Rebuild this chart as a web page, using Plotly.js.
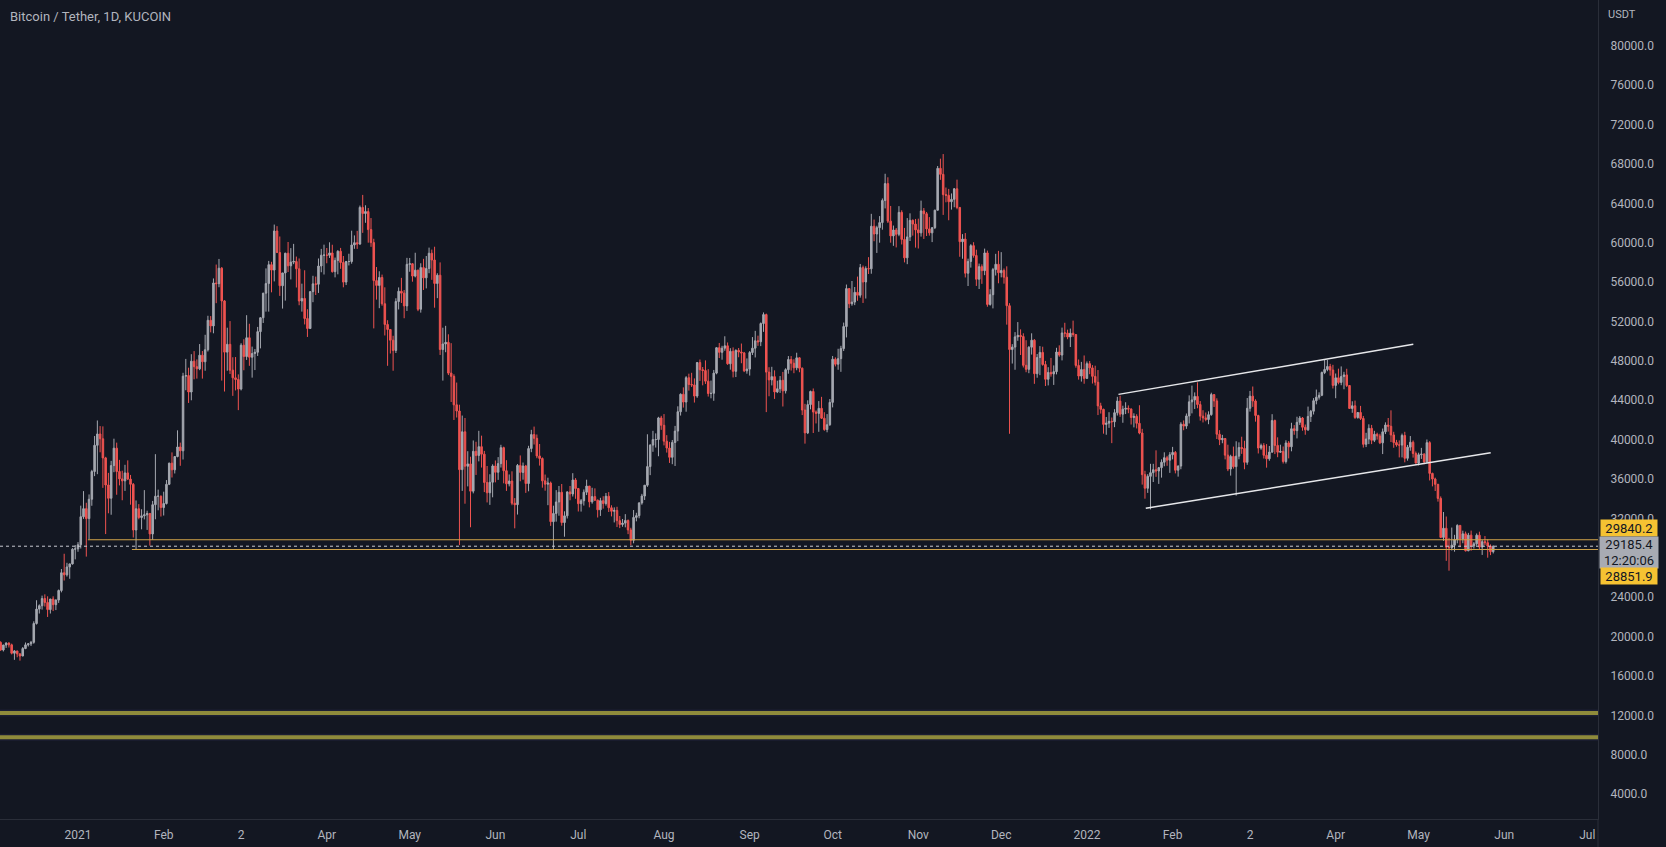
<!DOCTYPE html>
<html>
<head>
<meta charset="utf-8">
<script src="https://cdn.plot.ly/plotly-3.0.1.min.js"></script>
<style>
html,body{margin:0;padding:0;background:#131722;overflow:hidden}
#chart{width:1666px;height:847px}
</style>
</head>
<body>
<div id="chart"></div>
<script>
// Daily candles BTC/USDT (KuCoin), values in thousand USDT, first candle 2020-12-04
const startDate = '2020-12-04';
const openK = [
19.42,18.65,19.15,19.36,19.17,18.32,18.55,18.26,18.04,18.80,19.17,19.27,19.43,21.34,22.80,23.14,23.87,23.48,22.75,23.82,23.25,23.72,24.69,26.49,26.28,27.08,27.39,28.88,
28.92,29.33,32.18,33.00,31.99,33.95,36.77,39.43,40.58,40.09,38.15,35.40,34.05,37.37,39.14,36.77,36.02,35.82,36.63,36.00,35.47,30.83,32.99,32.10,32.27,32.37,32.51,30.43,33.40,34.26,34.26,
33.11,33.52,35.47,37.62,36.94,38.29,39.26,38.87,46.45,46.51,44.84,47.97,47.41,47.19,48.58,47.91,49.13,52.12,51.55,55.91,55.84,57.41,54.09,48.89,49.68,47.06,46.28,46.11,
45.14,49.59,48.44,50.35,48.37,48.75,48.88,50.97,52.38,54.88,55.85,57.77,57.22,61.19,59.00,55.63,56.93,58.93,57.65,58.03,58.10,57.35,54.08,54.34,52.30,51.29,55.03,55.82,55.78,57.63,58.73,
58.74,58.72,58.96,57.06,58.20,59.13,57.99,56.00,58.09,58.09,59.77,60.00,59.86,63.58,62.96,63.16,61.33,60.01,56.15,55.66,56.47,53.80,51.70,51.19,50.10,49.06,54.03,55.07,54.88,53.58,
57.80,57.86,56.61,57.21,53.24,57.47,56.43,57.38,58.93,58.24,55.86,56.70,49.15,49.72,49.88,46.76,46.43,43.54,42.91,36.96,40.80,37.30,37.54,34.77,38.82,38.39,39.29,38.53,35.66,34.61,35.68,
37.33,36.69,37.57,39.19,36.85,35.52,35.80,33.55,33.40,37.39,36.68,37.33,35.55,39.10,40.52,40.14,38.35,38.09,35.82,35.48,35.60,31.68,32.51,33.68,34.66,31.59,32.27,34.70,34.49,35.91,
35.04,33.50,33.80,34.67,35.29,33.69,34.22,33.86,32.88,33.81,33.52,34.26,33.09,32.73,32.82,31.78,31.39,31.53,31.80,30.84,29.79,32.11,32.29,33.58,34.28,35.38,37.27,39.45,40.01,40.02,42.21,
41.46,39.85,39.15,38.21,39.72,40.87,42.84,44.61,43.82,46.29,45.60,45.56,44.43,47.83,47.10,47.02,45.94,44.69,44.71,46.76,49.34,48.87,49.29,49.53,47.71,48.97,46.94,49.07,48.90,48.81,46.99,
47.17,48.85,49.29,50.04,49.94,51.79,52.70,46.86,46.07,46.40,44.85,45.17,46.03,44.96,47.11,48.14,47.76,47.30,48.31,47.26,43.01,40.69,43.56,44.90,42.81,42.67,43.18,42.18,41.03,41.52,
43.79,48.17,47.66,48.23,49.25,51.49,55.34,53.80,53.97,54.96,54.66,57.47,56.01,57.37,57.35,61.67,60.88,61.53,62.04,64.28,66.00,62.19,60.69,61.29,60.85,63.08,60.33,58.46,60.59,62.27,61.89,
61.30,61.00,63.23,62.94,61.40,61.00,61.53,63.30,67.55,66.94,64.88,64.81,64.16,64.40,65.47,63.58,60.10,60.37,56.90,58.10,59.70,58.70,56.29,57.57,57.16,58.96,53.73,54.72,57.27,57.81,
56.95,57.18,56.50,53.60,49.15,49.40,50.44,50.59,50.47,47.55,47.14,49.39,50.10,46.70,48.34,48.86,47.63,46.13,46.83,46.68,46.91,48.90,48.59,50.84,50.82,50.43,50.81,50.68,47.54,46.46,47.12,
46.22,47.72,47.29,46.43,45.83,43.43,43.08,41.55,41.68,41.86,41.82,42.74,43.92,42.59,43.10,43.18,43.11,42.25,42.37,41.66,40.68,36.45,35.07,36.28,36.65,36.95,36.82,37.16,37.71,38.17,37.92,
38.47,38.71,36.90,37.32,41.57,41.38,42.41,43.84,44.04,44.39,43.57,42.39,42.21,42.05,42.54,44.58,43.94,40.55,40.00,40.12,38.43,37.02,38.30,37.26,38.33,39.21,39.11,37.70,
43.19,44.42,43.93,42.45,39.15,39.40,38.42,38.06,38.74,41.94,39.42,38.73,38.81,37.78,39.67,39.28,41.11,40.92,41.76,42.20,41.26,41.00,42.36,42.89,43.96,44.31,44.51,46.82,47.13,47.43,47.07,
45.51,46.28,45.81,46.41,46.58,45.50,43.17,43.44,42.25,42.76,42.16,39.53,40.07,41.15,39.94,40.55,40.38,39.68,40.80,41.49,41.36,40.48,39.71,39.47,39.45,40.43,38.11,39.24,39.74,38.60,
37.63,38.47,38.53,37.75,39.70,36.58,36.01,35.47,34.04,30.08,31.01,29.10,29.03,29.29,29.86,31.30,29.93,30.44,28.72,30.31,29.20,29.43,30.30,29.10,29.65,29.54,29.20,28.63
];
const highK = [
19.53,19.18,19.42,19.42,19.29,18.64,18.56,18.28,18.95,19.41,19.35,19.57,21.56,23.70,23.28,24.17,24.30,24.10,23.84,24.10,23.79,24.79,26.87,28.42,27.50,27.41,28.99,29.30,
29.60,33.30,34.78,33.60,34.44,36.94,40.37,41.95,41.38,41.35,38.26,36.63,37.85,40.10,39.70,37.95,36.85,37.45,37.90,36.42,35.60,33.83,33.46,32.94,34.88,32.79,32.56,33.78,38.53,34.93,34.34,
34.72,35.90,37.66,38.71,38.31,40.95,39.70,46.79,48.20,47.31,48.68,48.99,48.15,49.71,49.00,50.65,52.58,52.55,56.37,57.78,58.35,57.53,54.18,51.37,52.04,48.37,48.39,46.63,
49.79,50.20,52.64,51.77,49.45,49.20,51.45,52.42,54.90,57.39,58.15,58.06,61.84,61.68,60.63,56.94,58.98,60.07,59.45,59.88,58.59,58.40,55.84,57.20,53.24,55.07,56.64,56.56,58.40,59.37,59.80,
59.46,60.04,59.79,58.49,59.24,59.47,58.65,58.15,58.88,61.22,60.74,61.20,63.77,64.85,63.80,63.52,62.50,60.40,57.53,57.10,56.76,55.47,52.13,51.20,50.55,54.36,55.46,56.43,55.20,58.46,
58.45,57.94,58.98,57.26,57.91,58.36,58.65,59.50,59.30,59.59,56.90,58.00,51.37,51.56,50.70,49.80,46.64,45.80,43.55,42.45,42.20,38.83,38.27,39.92,39.79,40.90,40.41,38.86,37.33,36.49,37.50,
37.89,38.23,39.48,39.29,37.92,36.47,36.79,34.07,37.53,38.40,37.68,37.44,39.38,41.00,41.33,40.53,39.56,38.20,36.46,36.14,35.75,33.30,34.88,35.30,35.50,32.73,34.75,35.30,36.60,36.10,
35.10,33.98,34.95,35.94,35.29,35.12,35.06,33.92,34.10,34.26,34.59,34.68,33.34,33.13,33.19,32.25,31.95,32.44,31.90,31.06,32.86,32.58,33.65,34.50,35.40,40.55,39.54,40.90,40.64,42.32,42.42,
42.60,40.46,39.78,39.97,41.40,43.39,44.70,45.31,46.45,46.70,46.79,46.22,47.89,48.14,47.38,48.05,47.16,46.00,47.08,49.38,49.82,49.53,50.50,49.87,49.29,49.37,49.17,49.31,49.76,48.91,48.25,
49.00,50.42,51.05,50.56,51.90,52.92,52.80,47.36,47.40,47.04,45.99,46.46,46.88,47.25,48.49,48.49,48.17,48.83,48.37,47.33,43.64,44.00,44.98,45.20,42.97,43.92,44.35,42.79,42.60,44.13,
48.50,48.36,49.23,49.53,51.89,55.75,55.40,56.11,55.50,56.56,57.84,57.68,57.60,58.53,62.93,62.35,61.72,62.70,64.49,67.00,66.64,63.73,61.74,61.49,63.71,63.29,61.50,62.50,62.98,62.36,62.41,
62.44,64.27,63.52,63.12,62.60,61.56,63.35,67.79,68.53,69.00,65.60,65.46,65.00,65.55,66.40,63.59,60.87,60.98,58.38,59.85,60.05,59.29,57.88,57.80,59.40,59.20,55.28,57.44,58.87,59.17,
59.04,57.38,57.60,53.86,49.70,50.92,51.94,51.20,50.80,50.10,49.49,50.80,50.21,48.70,49.50,49.44,48.00,47.36,48.30,47.54,49.33,49.58,51.38,51.87,51.17,51.28,52.09,50.70,48.14,47.90,48.55,
47.94,47.99,47.57,47.51,47.07,43.75,43.15,42.30,42.79,42.25,43.10,44.35,44.46,43.45,43.80,43.48,43.18,42.68,42.58,43.50,41.10,36.84,36.50,37.55,37.55,38.92,37.23,38.00,38.72,38.36,38.74,
39.27,38.85,37.39,41.77,41.95,42.66,44.50,45.49,44.80,45.82,43.92,42.99,42.76,42.88,44.77,44.60,44.20,40.97,40.49,40.15,39.49,38.47,39.30,39.84,39.73,40.30,39.89,44.23,
44.95,45.40,44.10,42.53,39.60,39.65,39.55,39.36,42.59,42.04,40.24,39.49,39.31,39.94,39.86,41.72,41.48,42.33,42.40,42.30,41.54,43.36,43.02,44.22,45.09,44.81,46.92,48.19,48.10,47.70,47.60,
46.72,47.21,47.44,46.89,47.20,45.51,43.90,43.97,42.80,43.43,42.41,40.70,41.56,41.50,40.90,40.71,40.60,41.13,41.76,42.20,42.98,40.80,39.98,39.93,40.62,40.80,39.47,40.37,39.92,38.80,
38.68,39.17,38.63,40.02,39.85,36.65,36.15,35.51,34.24,32.66,32.20,30.03,31.08,30.34,31.41,31.31,30.76,30.67,30.54,30.77,29.61,30.48,30.66,29.82,30.22,29.88,29.37,29.26
];
const lowK = [
18.57,18.50,18.86,18.90,18.20,17.65,17.91,17.57,18.02,18.73,19.00,19.05,19.29,21.23,22.35,22.75,23.06,22.00,22.35,22.60,22.70,23.43,24.50,25.70,26.10,25.88,27.32,27.85,
28.62,28.95,31.96,28.13,29.90,33.29,36.30,36.50,38.72,35.11,30.42,32.53,32.38,36.70,34.41,35.36,33.85,34.80,35.90,33.40,30.07,28.85,31.92,30.90,31.91,30.84,29.24,29.84,31.92,32.83,32.20,
32.30,33.42,35.39,36.16,36.57,38.21,37.35,37.99,45.02,43.73,44.00,46.13,46.20,47.06,46.20,47.00,48.95,50.90,50.80,53.86,55.48,46.00,44.89,47.00,46.67,44.45,45.00,43.00,
45.00,47.05,48.10,47.50,46.30,47.07,48.50,49.27,51.85,53.00,53.00,54.96,56.07,58.96,54.60,53.31,54.12,57.02,56.27,57.82,55.45,53.65,53.00,51.70,50.43,51.28,53.96,54.69,54.90,57.00,56.77,
57.91,58.45,56.96,56.48,56.79,57.35,55.47,55.70,57.69,57.87,59.38,59.37,59.79,61.00,62.02,60.00,59.58,51.30,54.22,53.35,53.60,50.58,47.50,48.75,47.00,48.80,53.22,53.88,52.33,53.07,
57.05,56.04,56.48,53.05,52.90,55.20,55.36,56.90,56.23,53.40,54.37,48.60,46.00,48.88,46.56,43.83,42.00,42.25,29.30,34.80,33.50,35.26,31.11,34.55,36.42,37.80,37.17,34.68,33.63,33.38,34.15,
35.67,35.92,37.17,35.57,34.80,35.26,33.35,31.00,32.40,35.78,35.94,34.60,34.76,38.73,39.51,38.12,37.37,35.13,34.82,33.35,31.25,28.85,31.68,32.28,31.27,30.15,32.00,33.85,34.23,34.00,
32.71,32.70,33.31,34.38,33.13,33.50,33.77,32.10,32.26,33.00,33.31,32.66,32.21,31.60,31.13,31.02,31.16,31.10,30.41,29.28,29.48,31.71,32.02,33.40,33.88,35.21,36.40,38.77,39.20,38.32,41.00,
39.42,38.69,37.64,37.51,37.33,39.85,42.45,43.26,42.84,44.98,45.35,43.77,44.25,45.97,45.52,45.66,44.38,44.20,43.95,46.64,48.29,48.12,49.03,47.60,47.11,46.32,46.36,48.37,47.76,46.86,46.70,
46.51,48.60,48.35,49.53,49.50,50.95,42.80,44.41,45.51,44.14,44.73,44.75,43.37,44.69,46.70,47.02,46.75,47.05,46.85,42.50,39.60,40.57,43.08,40.68,41.65,40.80,42.10,40.90,40.75,41.41,
43.28,47.44,47.10,46.89,49.00,50.38,53.36,53.60,53.66,54.10,54.42,53.88,54.33,56.82,56.85,60.15,58.96,60.00,61.32,63.48,62.00,60.00,59.68,59.52,60.66,59.82,58.00,57.82,60.17,60.72,59.50,
59.41,60.62,60.38,60.68,60.72,60.06,61.38,63.27,66.38,62.82,64.10,62.28,63.36,63.60,63.40,58.57,58.37,56.47,55.60,57.47,58.48,55.61,55.30,55.82,56.70,53.50,53.61,53.33,56.67,55.88,
56.48,55.84,51.68,40.60,47.73,47.10,50.04,48.60,47.33,46.85,46.75,48.64,45.67,46.29,46.55,47.51,45.45,45.51,46.40,45.56,46.63,48.42,48.05,50.40,50.20,49.41,50.45,47.31,46.10,45.90,45.68,
46.21,46.65,45.70,45.50,42.50,42.65,40.61,40.50,41.20,39.65,41.27,42.45,42.32,41.72,42.60,42.69,41.54,41.25,41.14,40.55,35.44,34.01,34.60,32.92,35.70,36.23,35.51,36.15,37.30,37.35,36.63,
38.00,36.58,36.25,37.00,40.96,41.10,41.65,42.67,43.12,43.19,41.94,41.75,41.87,41.57,42.43,43.32,40.07,39.45,39.64,38.00,36.81,36.35,37.06,34.32,38.01,38.56,37.00,37.45,
42.85,43.33,41.83,38.60,38.98,38.09,37.16,37.86,38.66,38.54,38.22,38.66,37.58,37.58,38.10,38.82,40.50,40.13,41.50,40.91,40.50,40.89,41.80,42.56,43.59,44.07,44.42,46.66,46.95,46.50,45.20,
44.21,45.62,45.53,45.12,45.35,43.12,42.73,42.11,42.13,42.00,39.20,39.25,39.55,39.55,39.76,40.01,39.55,38.54,40.57,40.82,39.76,39.18,39.29,38.20,38.20,37.70,37.87,38.88,38.18,37.58,
37.39,38.05,37.51,37.67,35.86,35.26,34.79,33.71,30.03,29.73,27.70,26.70,28.75,28.63,29.48,29.09,29.49,28.65,28.68,28.73,28.95,29.24,28.87,28.30,29.30,28.02,28.28,28.45
];
const closeK = [
18.65,19.15,19.36,19.17,18.32,18.55,18.26,18.04,18.80,19.17,19.27,19.43,21.34,22.80,23.14,23.87,23.48,22.75,23.82,23.25,23.72,24.69,26.49,26.28,27.08,27.39,28.88,28.92,
29.33,32.18,33.00,31.99,33.95,36.77,39.43,40.58,40.09,38.15,35.40,34.05,37.37,39.14,36.77,36.02,35.82,36.63,36.00,35.47,30.83,32.99,32.10,32.27,32.37,32.51,30.43,33.40,34.26,34.26,33.11,
33.52,35.47,37.62,36.94,38.29,39.26,38.87,46.45,46.51,44.84,47.97,47.41,47.19,48.58,47.91,49.13,52.12,51.55,55.91,55.84,57.41,54.09,48.89,49.68,47.06,46.28,46.11,45.14,
49.59,48.44,50.35,48.37,48.75,48.88,50.97,52.38,54.88,55.85,57.77,57.22,61.19,59.00,55.63,56.93,58.93,57.65,58.03,58.10,57.35,54.08,54.34,52.30,51.29,55.03,55.82,55.78,57.63,58.73,58.74,
58.72,58.96,57.06,58.20,59.13,57.99,56.00,58.09,58.09,59.77,60.00,59.86,63.58,62.96,63.16,61.33,60.01,56.15,55.66,56.47,53.80,51.70,51.19,50.10,49.06,54.03,55.07,54.88,53.58,57.80,
57.86,56.61,57.21,53.24,57.47,56.43,57.38,58.93,58.24,55.86,56.70,49.15,49.72,49.88,46.76,46.43,43.54,42.91,36.96,40.80,37.30,37.54,34.77,38.82,38.39,39.29,38.53,35.66,34.61,35.68,37.33,
36.69,37.57,39.19,36.85,35.52,35.80,33.55,33.40,37.39,36.68,37.33,35.55,39.10,40.52,40.14,38.35,38.09,35.82,35.48,35.60,31.68,32.51,33.68,34.66,31.59,32.27,34.70,34.49,35.91,35.04,
33.50,33.80,34.67,35.29,33.69,34.22,33.86,32.88,33.81,33.52,34.26,33.09,32.73,32.82,31.78,31.39,31.53,31.80,30.84,29.79,32.11,32.29,33.58,34.28,35.38,37.27,39.45,40.01,40.02,42.21,41.46,
39.85,39.15,38.21,39.72,40.87,42.84,44.61,43.82,46.29,45.60,45.56,44.43,47.83,47.10,47.02,45.94,44.69,44.71,46.76,49.34,48.87,49.29,49.53,47.71,48.97,46.94,49.07,48.90,48.81,46.99,47.17,
48.85,49.29,50.04,49.94,51.79,52.70,46.86,46.07,46.40,44.85,45.17,46.03,44.96,47.11,48.14,47.76,47.30,48.31,47.26,43.01,40.69,43.56,44.90,42.81,42.67,43.18,42.18,41.03,41.52,43.79,
48.17,47.66,48.23,49.25,51.49,55.34,53.80,53.97,54.96,54.66,57.47,56.01,57.37,57.35,61.67,60.88,61.53,62.04,64.28,66.00,62.19,60.69,61.29,60.85,63.08,60.33,58.46,60.59,62.27,61.89,61.30,
61.00,63.23,62.94,61.40,61.00,61.53,63.30,67.55,66.94,64.88,64.81,64.16,64.40,65.47,63.58,60.10,60.37,56.90,58.10,59.70,58.70,56.29,57.57,57.16,58.96,53.73,54.72,57.27,57.81,56.95,
57.18,56.50,53.60,49.15,49.40,50.44,50.59,50.47,47.55,47.14,49.39,50.10,46.70,48.34,48.86,47.63,46.13,46.83,46.68,46.91,48.90,48.59,50.84,50.82,50.43,50.81,50.68,47.54,46.46,47.12,46.22,
47.72,47.29,46.43,45.83,43.43,43.08,41.55,41.68,41.86,41.82,42.74,43.92,42.59,43.10,43.18,43.11,42.25,42.37,41.66,40.68,36.45,35.07,36.28,36.65,36.95,36.82,37.16,37.71,38.17,37.92,38.47,
38.71,36.90,37.32,41.57,41.38,42.41,43.84,44.04,44.39,43.57,42.39,42.21,42.05,42.54,44.58,43.94,40.55,40.00,40.12,38.43,37.02,38.30,37.26,38.33,39.21,39.11,37.70,43.19,
44.42,43.93,42.45,39.15,39.40,38.42,38.06,38.74,41.94,39.42,38.73,38.81,37.78,39.67,39.28,41.11,40.92,41.76,42.20,41.26,41.00,42.36,42.89,43.96,44.31,44.51,46.82,47.13,47.43,47.07,45.51,
46.28,45.81,46.41,46.58,45.50,43.17,43.44,42.25,42.76,42.16,39.53,40.07,41.15,39.94,40.55,40.38,39.68,40.80,41.49,41.36,40.48,39.71,39.47,39.45,40.43,38.11,39.24,39.74,38.60,37.63,
38.47,38.53,37.75,39.70,36.58,36.01,35.47,34.04,30.08,31.01,29.10,29.03,29.29,29.86,31.30,29.93,30.44,28.72,30.31,29.20,29.43,30.30,29.10,29.65,29.54,29.20,28.63,29.1854
];

// Levels and drawings
const upperSupport = 29840.2;
const lowerSupport = 28851.9;
const lastPrice = 29185.4;
const countdown = '12:20:06';
const upperRayStart = '2021-01-04 14:00';
const lowerRayStart = '2021-01-20 12:00';
const zoneLevels = [12250, 9800];
const channelUpperX = ['2022-01-12 10:00', '2022-04-29 02:00'];
const channelUpperY = [44600, 49680];
const channelLowerX = ['2022-01-22 07:00', '2022-05-27 02:00'];
const channelLowerY = [33030, 38680];

// Axes (28000 is hidden behind the price labels in the original)
const priceTicks = [4000,8000,12000,16000,20000,24000,32000,36000,40000,44000,48000,52000,56000,60000,64000,68000,72000,76000,80000];
const monthTicks = ['2021-01-01','2021-02-01','2021-03-01','2021-04-01','2021-05-01','2021-06-01','2021-07-01','2021-08-01','2021-09-01','2021-10-01','2021-11-01','2021-12-01','2022-01-01','2022-02-01','2022-03-01','2022-04-01','2022-05-01','2022-06-01','2022-07-01'];
const monthLabels = ['2021','Feb','2','Apr','May','Jun','Jul','Aug','Sep','Oct','Nov','Dec','2022','Feb','2','Apr','May','Jun','Jul'];
const xRange = ['2020-12-03 18:43', '2022-07-04 21:36'];
const yRange = [1490, 84640];

const K = 1000;
const upColor = '#a5a8b0';
const downColor = '#ef5350';
const textColor = '#b2b5be';
const bg = '#131722';
const font = 'Roboto, "Open Sans", "DejaVu Sans", sans-serif';

const dates = closeK.map((_, i) => {
  const d = new Date(Date.UTC(2020, 11, 4 + i));
  return d.toISOString().slice(0, 10);
});

const candles = {
  type: 'candlestick',
  x: dates,
  open: openK.map(v => v * K),
  high: highK.map(v => v * K),
  low: lowK.map(v => v * K),
  close: closeK.map(v => v * K),
  increasing: {line: {color: upColor, width: 1}, fillcolor: upColor},
  decreasing: {line: {color: downColor, width: 1}, fillcolor: downColor},
  whiskerwidth: 0,
  hoverinfo: 'skip'
};

const shapes = [];
zoneLevels.forEach(v => {
  shapes.push({type: 'line', xref: 'paper', x0: 0, x1: 1, yref: 'y', y0: v, y1: v,
    line: {color: '#1c1f33', width: 7}, layer: 'below'});
  shapes.push({type: 'line', xref: 'paper', x0: 0, x1: 1, yref: 'y', y0: v, y1: v,
    line: {color: '#8f8b3b', width: 4}, layer: 'below'});
});
shapes.push({type: 'line', xref: 'x', x0: upperRayStart, x1: xRange[1], yref: 'y', y0: upperSupport, y1: upperSupport,
  line: {color: '#d2a54a', width: 1}});
shapes.push({type: 'line', xref: 'x', x0: lowerRayStart, x1: xRange[1], yref: 'y', y0: lowerSupport, y1: lowerSupport,
  line: {color: '#d2a54a', width: 1}});
shapes.push({type: 'line', xref: 'paper', x0: 0, x1: 1, yref: 'y', y0: lastPrice, y1: lastPrice,
  line: {color: '#c8cad0', width: 1, dash: 'dot'}});
shapes.push({type: 'line', xref: 'x', x0: channelUpperX[0], x1: channelUpperX[1], yref: 'y', y0: channelUpperY[0], y1: channelUpperY[1],
  line: {color: '#e6e7ea', width: 1.5}});
shapes.push({type: 'line', xref: 'x', x0: channelLowerX[0], x1: channelLowerX[1], yref: 'y', y0: channelLowerY[0], y1: channelLowerY[1],
  line: {color: '#e6e7ea', width: 1.5}});
// price-scale separator continues through the time-axis strip
shapes.push({type: 'line', xref: 'paper', x0: 1, x1: 1, yref: 'paper', y0: -0.035, y1: 0,
  line: {color: '#2a2e39', width: 1}});

const annotations = [
  {text: 'Bitcoin / Tether, 1D, KUCOIN', xref: 'paper', yref: 'paper', x: 0, y: 1, xshift: 8, yshift: -16,
   xanchor: 'left', yanchor: 'middle', showarrow: false, font: {family: font, size: 13, color: textColor}},
  {text: 'USDT', xref: 'paper', yref: 'paper', x: 1, y: 1, xshift: 8, yshift: -14,
   xanchor: 'left', yanchor: 'middle', showarrow: false, font: {family: font, size: 11, color: textColor}},
  {text: upperSupport.toFixed(1), xref: 'paper', yref: 'y', x: 1, y: upperSupport, xshift: 2, yshift: 12,
   xanchor: 'left', yanchor: 'middle', showarrow: false, bgcolor: '#f5c232', width: 56, height: 16, borderpad: 0,
   font: {family: font, size: 13, color: bg}},
  {text: lastPrice.toFixed(1) + '<br>' + countdown, xref: 'paper', yref: 'y', x: 1, y: lastPrice, xshift: 1, yshift: -6,
   xanchor: 'left', yanchor: 'middle', showarrow: false, bgcolor: '#a8abb3', width: 58, height: 31, borderpad: 0,
   font: {family: font, size: 13, color: bg}},
  {text: lowerSupport.toFixed(1), xref: 'paper', yref: 'y', x: 1, y: lowerSupport, xshift: 2, yshift: -27,
   xanchor: 'left', yanchor: 'middle', showarrow: false, bgcolor: '#f5c232', width: 56, height: 16, borderpad: 0,
   font: {family: font, size: 13, color: bg}}
];

const layout = {
  width: 1666, height: 847,
  paper_bgcolor: bg, plot_bgcolor: bg,
  margin: {l: 0, r: 68, t: 0, b: 28},
  showlegend: false,
  dragmode: false,
  boxgap: 0.2,
  xaxis: {
    type: 'date', range: xRange, rangeslider: {visible: false},
    showgrid: false, zeroline: false, showline: true, linecolor: '#2a2e39', linewidth: 1,
    tickmode: 'array', tickvals: monthTicks, ticktext: monthLabels, ticks: '',
    ticklabelstandoff: 5,
    tickfont: {family: font, size: 12, color: textColor}
  },
  yaxis: {
    side: 'right', range: yRange,
    showgrid: false, zeroline: false, showline: true, linecolor: '#2a2e39', linewidth: 1,
    tickmode: 'array', tickvals: priceTicks, ticktext: priceTicks.map(v => v.toFixed(1)), ticks: '',
    ticklabelstandoff: 9,
    tickfont: {family: font, size: 12, color: textColor}
  },
  shapes: shapes,
  annotations: annotations
};

Plotly.newPlot('chart', [candles], layout, {displayModeBar: false, staticPlot: true});
</script>
</body>
</html>
